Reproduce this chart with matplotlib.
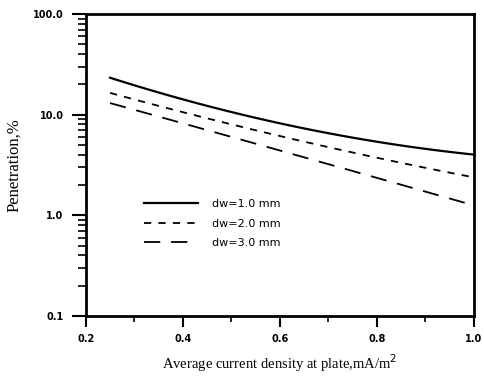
import matplotlib
matplotlib.use('Agg')
import matplotlib.pyplot as plt
from matplotlib.ticker import FixedLocator, LogLocator, NullFormatter
import numpy as np

# Data
current = [0.25, 0.4, 0.6, 0.8, 1.0]
pen_dw1 = [23.5, 13.9, 8.3, 5.4, 4.0]
pen_dw2 = [16.0, 11.0, 6.3, 3.5, 2.45]
pen_dw3 = [12.8, 8.4, 4.5, 2.25, 1.28]
labels = ['dw=1.0 mm', 'dw=2.0 mm', 'dw=3.0 mm']
x_ticks = [0.2, 0.4, 0.6, 0.8, 1.0]
y_ticks = [0.1, 1.0, 10.0, 100.0]


def smooth(x, y, n=60):
    # smooth log-space curve through the read points
    xs = np.linspace(x[0], x[-1], n)
    coef = np.polyfit(x, np.log10(y), 2)
    return xs, 10 ** np.polyval(coef, xs)


fig = plt.figure(figsize=(4.85, 3.78), dpi=100)
ax = fig.add_axes([0.177, 0.164, 0.8, 0.799])

styles = [
    dict(linestyle='-', linewidth=1.6),
    dict(linestyle=(0, (4, 4)), linewidth=1.3),
    dict(linestyle=(0, (9, 6)), linewidth=1.3),
]
for ys, lab, st in zip([pen_dw1, pen_dw2, pen_dw3], labels, styles):
    xs, yy = smooth(current, ys)
    ax.plot(xs, yy, color='black', label=lab, **st)

ax.set_yscale('log')
ax.set_xlim(0.2, 1.0)
ax.set_ylim(0.1, 100)

ax.xaxis.set_major_locator(FixedLocator(x_ticks))
ax.xaxis.set_minor_locator(FixedLocator([0.3, 0.5, 0.7, 0.9]))
ax.set_xticklabels(['%.1f' % v for v in x_ticks])
ax.yaxis.set_major_locator(FixedLocator(y_ticks))
ax.yaxis.set_minor_locator(LogLocator(base=10, subs=np.arange(2, 10)))
ax.yaxis.set_minor_formatter(NullFormatter())
ax.set_yticklabels(['%.1f' % v for v in y_ticks])

for lab in ax.get_xticklabels() + ax.get_yticklabels():
    lab.set_fontsize(7)
    lab.set_fontweight('bold')

ax.tick_params(which='major', direction='out', length=10, width=1.5, pad=6)
ax.tick_params(which='minor', direction='out', length=6, width=1.2)
ax.tick_params(axis='x', which='major', length=8, pad=5)
ax.tick_params(axis='x', which='minor', length=4)

for sp in ax.spines.values():
    sp.set_linewidth(2)

ax.set_xlabel('Average current density at plate,mA/m$^2$', fontsize=10.5,
              fontfamily='Liberation Serif', labelpad=6)
ax.set_ylabel('Penetration,%', fontsize=12, fontfamily='Liberation Serif',
              labelpad=8)

ax.legend(loc='upper left', bbox_to_anchor=(0.125, 0.42), frameon=False,
          fontsize=8, handlelength=4.8, handletextpad=1.3, labelspacing=0.85)

fig.patch.set_facecolor('white')
plt.savefig('out.png', dpi=100, facecolor='white')
plt.close()
